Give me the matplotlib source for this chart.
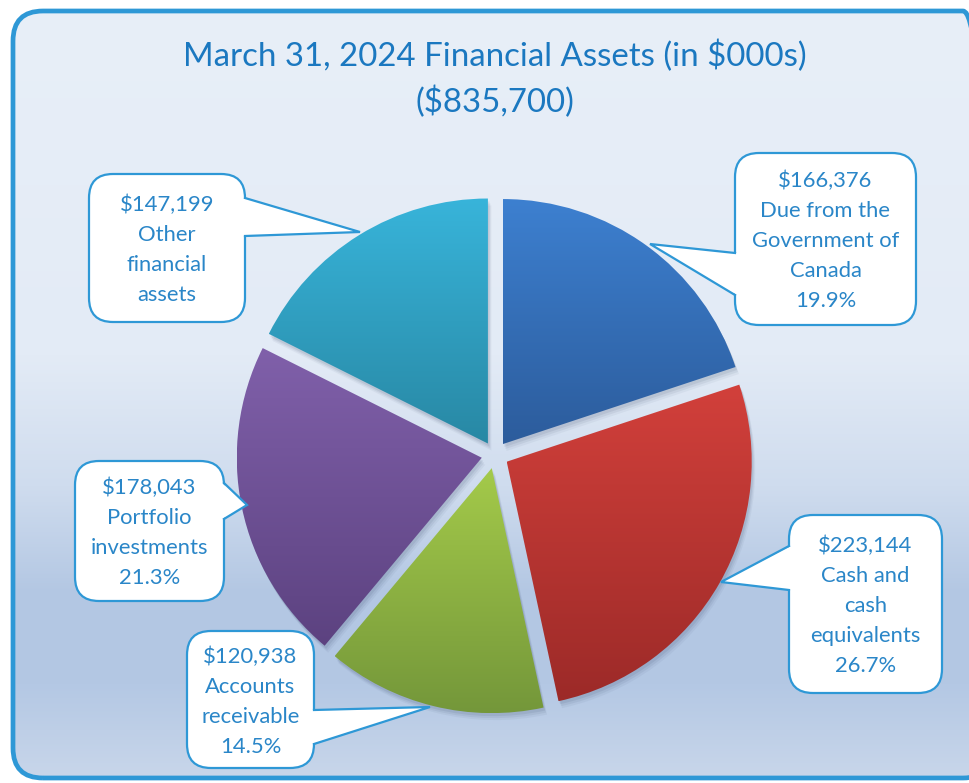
import numpy as np
import matplotlib
matplotlib.use('Agg')
import matplotlib.pyplot as plt
from matplotlib.patches import FancyBboxPatch, Polygon, Wedge
from matplotlib.colors import LinearSegmentedColormap

plt.rcParams['font.family'] = ['Lato', 'DejaVu Sans']

# data (in $000s)
categories = ['Due from the\nGovernment of\nCanada', 'Cash and\ncash\nequivalents',
              'Accounts\nreceivable', 'Portfolio\ninvestments', 'Other\nfinancial\nassets']
values = [166376, 223144, 120938, 178043, 147199]
show_pct = [True, True, True, True, False]
title = 'March 31, 2024 Financial Assets (in $000s)\n($835,700)'

# slice colours: (top, bottom) of each gradient
slice_colors = [('#3d80d0', '#2c5c9c'), ('#d2403b', '#9c2a28'), ('#a4ca4a', '#74973a'),
                ('#8060aa', '#5c4280'), ('#38b4da', '#2888a4')]

W, H = 969, 783
TXT = '#2a86c8'
EDGE = '#2e98d6'


def py(y):
    # pixel row -> data y
    return H - y


fig = plt.figure(figsize=(W / 100, H / 100), dpi=100)
ax = fig.add_axes([0, 0, 1, 1])

# framed background with vertical gradient
frame = FancyBboxPatch((13, py(778)), 980, 767, boxstyle='round,pad=0,rounding_size=30',
                       facecolor='none', edgecolor=EDGE, lw=3.4, zorder=3)
bg_cmap = LinearSegmentedColormap.from_list('bg', [(0, '#e8eff8'), (0.45, '#e3ebf6'),
                                                   (0.62, '#cfdcee'), (0.76, '#b3c7e3'),
                                                   (0.88, '#b4c8e4'), (1.0, '#c8d6ea')])
grad = np.linspace(0, 1, 256).reshape(-1, 1)
bg = ax.imshow(grad, cmap=bg_cmap, extent=(13, 993, py(778), py(11)), aspect='auto',
               origin='upper', zorder=0)
bgclip = FancyBboxPatch((13, py(778)), 980, 767, boxstyle='round,pad=0,rounding_size=30',
                        facecolor='none', edgecolor='none')
ax.add_patch(bgclip)
bg.set_clip_path(bgclip)
ax.add_patch(frame)

# pie
cx, cy, R = 495, py(455), 245
wedges, _ = ax.pie(values, startangle=90, counterclock=False, radius=R, center=(cx, cy),
                   explode=[13.5] * len(values), colors=['none'] * len(values),
                   wedgeprops=dict(linewidth=0))

for w, (c_top, c_bot) in zip(wedges, slice_colors):
    # soft shadow
    for k, a in [(7, 0.05), (5, 0.07), (3, 0.09)]:
        sh = Wedge((w.center[0] + k * 0.5, w.center[1] - k), w.r, w.theta1, w.theta2,
                   facecolor='#2a3a5a', edgecolor='none', alpha=a, zorder=1)
        ax.add_patch(sh)
    ext = w.get_path().get_extents()
    cmap = LinearSegmentedColormap.from_list('s', [c_top, c_bot])
    im = ax.imshow(grad, cmap=cmap, extent=(ext.x0, ext.x1, ext.y0, ext.y1),
                   aspect='auto', origin='upper', zorder=2)
    w.set_zorder(2)
    im.set_clip_path(w)

total = sum(values)

# callouts: box (x0, y0, x1, y1), pointer base ys on side, tip point (pixel coords)
callouts = [
    ((735, 153, 916, 325), 'left', (253, 295), (650, 244)),
    ((789, 515, 942, 693), 'left', (546, 590), (721, 582)),
    ((187, 631, 314, 768), 'right', (710, 744), (430, 707)),
    ((75, 461, 224, 601), 'right', (483, 519), (247, 505)),
    ((89, 174, 245, 322), 'right', (198, 236), (360, 232)),
]

for cat, val, pct, (box, side, (ya, yb), tip) in zip(categories, values, show_pct, callouts):
    x0, y0, x1, y1 = box
    rect = FancyBboxPatch((x0, py(y1)), x1 - x0, y1 - y0,
                          boxstyle='round,pad=0,rounding_size=24',
                          facecolor='white', edgecolor=EDGE, lw=1.6, zorder=5)
    ax.add_patch(rect)
    bx = x0 if side == 'left' else x1
    inner = bx + 2 if side == 'left' else bx - 2
    tri = Polygon([(inner, py(ya)), (tip[0], py(tip[1])), (inner, py(yb))],
                  closed=True, facecolor='white', edgecolor='none', zorder=6)
    ax.add_patch(tri)
    ax.plot([bx, tip[0], bx], [py(ya), py(tip[1]), py(yb)], color=EDGE, lw=1.6,
            zorder=7, solid_joinstyle='miter')
    label = '${:,}\n{}'.format(val, cat)
    if pct:
        label += '\n{:.1f}%'.format(100 * val / total)
    ax.text((x0 + x1) / 2, py((y0 + y1) / 2 + 2), label, ha='center', va='center',
            fontsize=15.8, color=TXT, linespacing=1.62, zorder=8)

ax.text(495, py(79), title, ha='center', va='center', fontsize=23.8, color='#1b78c0',
        linespacing=1.5, zorder=8)

ax.set_xlim(0, W)
ax.set_ylim(0, H)
ax.set_aspect('auto')
ax.axis('off')

fig.savefig('out.png', dpi=100, facecolor='white')
